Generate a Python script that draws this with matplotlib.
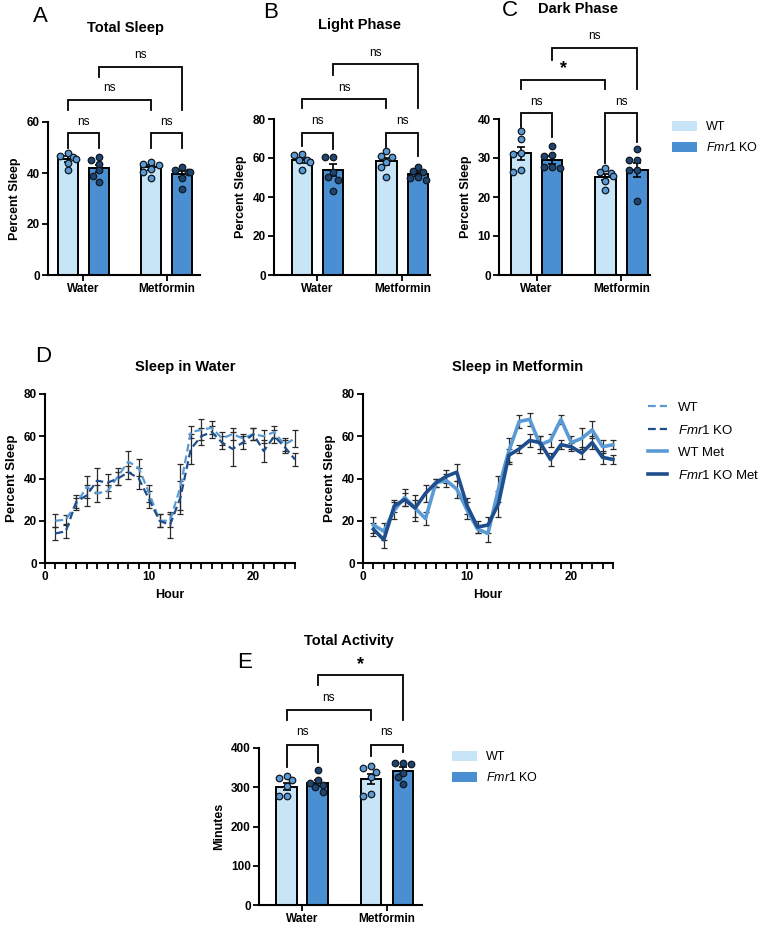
import matplotlib
matplotlib.use('Agg')
import matplotlib.pyplot as plt
import matplotlib.transforms as mtransforms
from matplotlib.patches import Patch
from matplotlib.lines import Line2D

plt.rcParams['font.family'] = ['Liberation Sans', 'DejaVu Sans']
plt.rcParams['mathtext.fontset'] = 'custom'
plt.rcParams['mathtext.it'] = 'Liberation Sans:italic'
plt.rcParams['mathtext.rm'] = 'Liberation Sans'

W, H = 760, 927

# ---- data ----
groups = ['Water', 'Metformin']
ko_label = r'$\mathit{Fmr1}$ KO'

# order: WT water, KO water, WT metformin, KO metformin
total_sleep_pts = [[47.8, 46.5, 46.3, 45.5, 43.8, 41.3],
                   [46.4, 45.0, 43.7, 41.0, 39.0, 36.4],
                   [44.4, 43.7, 43.0, 41.7, 40.4, 38.0],
                   [42.4, 41.0, 40.4, 40.4, 38.1, 33.8]]
total_sleep_mean = [45.5, 41.8, 42.2, 39.5]
total_sleep_sem = [1.0, 1.4, 1.0, 1.2]

light_pts = [[62.0, 61.4, 59.2, 58.8, 57.9, 53.7],
             [60.7, 60.7, 53.0, 50.5, 48.8, 43.3],
             [63.8, 61.0, 60.7, 58.0, 55.6, 50.5],
             [55.6, 53.5, 53.0, 50.5, 49.5, 48.8]]
light_mean = [58.8, 53.8, 58.3, 51.8]
light_sem = [1.2, 2.9, 1.9, 1.1]

dark_pts = [[36.8, 35.0, 31.3, 30.9, 27.0, 26.5],
            [33.2, 30.7, 30.4, 27.8, 27.8, 27.4],
            [27.4, 26.5, 26.2, 25.5, 24.0, 21.9],
            [32.2, 29.6, 29.4, 27.0, 27.0, 19.0]]
dark_mean = [31.2, 29.5, 25.2, 27.0]
dark_sem = [1.7, 1.0, 0.8, 1.8]

activity_pts = [[329, 323, 319, 302, 277, 277],
                [343, 319, 311, 306, 300, 287],
                [353, 349, 338, 326, 283, 277],
                [363, 362, 359, 336, 325, 309]]
activity_mean = [301, 311, 321, 342]
activity_sem = [9, 8, 13, 9]

hours = list(range(1, 25))
water_wt = [20, 20.5, 28, 36, 33, 34, 41, 48, 45, 33, 20, 20,
            36, 62, 63, 64, 59, 61, 59, 61, 60, 62, 56, 59]
water_wt_sem = [3, 2, 3, 5, 4, 3, 4, 5, 4, 4, 3, 3,
                11, 3, 5, 3, 3, 3, 2, 3, 3, 3, 3, 4]
water_ko = [14, 15, 29, 32, 39, 38, 40, 43, 40, 30, 20, 18,
            31, 54, 60, 62, 57, 54, 57, 61, 53, 60, 55, 49]
water_ko_sem = [3, 3, 3, 5, 6, 4, 3, 3, 5, 4, 3, 6,
                8, 7, 4, 3, 3, 8, 3, 3, 5, 3, 3, 3]
met_wt = [18, 15, 25, 31, 26, 21, 38, 39, 35, 25, 16, 14,
          35, 53, 67, 68, 56, 58, 68, 57, 59, 63, 55, 56]
met_wt_sem = [4, 4, 4, 4, 4, 3, 2, 3, 4, 4, 2, 4,
              6, 6, 3, 3, 4, 3, 2, 3, 5, 4, 3, 2]
met_ko = [16, 11, 27, 30, 26, 33, 38, 41, 43, 27, 17, 18,
          28, 51, 54, 58, 57, 49, 56, 55, 52, 57, 50, 49]
met_ko_sem = [3, 4, 3, 3, 6, 4, 2, 3, 4, 4, 3, 4,
              6, 3, 2, 3, 3, 3, 2, 2, 3, 3, 3, 2]

# ---- styling ----
wt_bar = '#c8e4f7'
ko_bar = '#4a8fd1'
wt_dot = '#5a9bd5'
ko_dot = '#1f4470'
wt_line = '#5b9bd5'
ko_line = '#1f4e8c'

bar_x = [0, 1, 2.72, 3.75]
group_ticks = [0.5, 3.235]

fig = plt.figure(figsize=(W / 100, H / 100), dpi=100)


def px_axes(left, top, right, bottom):
    return fig.add_axes([left / W, 1 - bottom / H, (right - left) / W, (bottom - top) / H])


def style_axes(ax):
    for s in ['top', 'right']:
        ax.spines[s].set_visible(False)
    for s in ['left', 'bottom']:
        ax.spines[s].set_linewidth(1.5)
    ax.tick_params(direction='out', length=4, width=1.3, labelsize=8.5, pad=2)
    for lab in ax.get_xticklabels() + ax.get_yticklabels():
        lab.set_fontweight('bold')


def swarm(ax, x0, vals, diam=6.3, step=0.17):
    # simple beeswarm in pixel space so dots do not overlap
    placed = []
    xs = []
    for v in vals:
        for k in [0, -1, 1, -0.5, 0.5, -1.5, 1.5]:
            xp, yp = ax.transData.transform((x0 + k * step, v))
            if all((xp - a) ** 2 + (yp - b) ** 2 >= diam ** 2 for a, b in placed):
                break
        placed.append((xp, yp))
        xs.append(x0 + k * step)
    return xs


def bracket(ax, x1, x2, yh, yl1, yl2, text, ty):
    tr = mtransforms.blended_transform_factory(ax.transData, ax.transAxes)
    ax.plot([x1, x1, x2, x2], [yl1, yh, yh, yl2], color='black', lw=1.3,
            transform=tr, clip_on=False, solid_joinstyle='miter')
    if text == '*':
        ax.text((x1 + x2) / 2, ty, text, transform=tr, ha='center', va='center',
                fontsize=13, fontweight='bold')
    else:
        ax.text((x1 + x2) / 2, ty, text, transform=tr, ha='center', va='center',
                fontsize=8.5)


def bar_panel(ax, pts, means, sems, ytop, ystep, ylabel, xlim, brackets):
    ax.set_xlim(*xlim)
    ax.set_ylim(0, ytop)
    ax.bar(bar_x, means, width=0.66, color=[wt_bar, ko_bar, wt_bar, ko_bar],
           edgecolor='black', linewidth=1.4, zorder=1)
    ax.errorbar(bar_x, means, yerr=sems, fmt='none', ecolor='black',
                elinewidth=1.2, capsize=3, capthick=1.2, zorder=2)
    for i, vals in enumerate(pts):
        xs = swarm(ax, bar_x[i], vals)
        ax.scatter(xs, vals, s=22, color=wt_dot if i % 2 == 0 else ko_dot,
                   edgecolor='#101820', linewidth=0.9, zorder=3, clip_on=False)
    ax.set_xticks(group_ticks)
    ax.set_xticklabels(groups)
    ax.set_yticks(range(0, ytop + 1, ystep))
    ax.set_ylabel(ylabel, fontsize=9, fontweight='bold', labelpad=4)
    style_axes(ax)
    for b in brackets:
        bracket(ax, *b)


# Panel A
axA = px_axes(48, 122, 200, 275)
bar_panel(axA, total_sleep_pts, total_sleep_mean, total_sleep_sem, 60, 20,
          'Percent Sleep', (-0.66, 4.33),
          [(bar_x[0], bar_x[1], 0.928, 0.83, 0.83, 'ns', 1.0),
           (bar_x[2], bar_x[3], 0.928, 0.83, 0.83, 'ns', 1.0),
           (bar_x[0], bar_x[2], 1.144, 1.078, 1.078, 'ns', 1.22),
           (bar_x[1], bar_x[3], 1.36, 1.294, 1.078, 'ns', 1.44)])

# Panel B
axB = px_axes(274, 119, 430, 275)
bar_panel(axB, light_pts, light_mean, light_sem, 80, 20,
          'Percent Sleep', (-0.9, 4.13),
          [(bar_x[0], bar_x[1], 0.91, 0.83, 0.81, 'ns', 0.99),
           (bar_x[2], bar_x[3], 0.91, 0.82, 0.76, 'ns', 0.99),
           (bar_x[0], bar_x[2], 1.13, 1.07, 1.07, 'ns', 1.2),
           (bar_x[1], bar_x[3], 1.35, 1.28, 1.07, 'ns', 1.42)])

# Panel C
axC = px_axes(499, 119, 650, 275)
bar_panel(axC, dark_pts, dark_mean, dark_sem, 40, 10,
          'Percent Sleep', (-0.71, 4.16),
          [(bar_x[0], bar_x[1], 1.04, 0.95, 0.885, 'ns', 1.11),
           (bar_x[2], bar_x[3], 1.04, 0.72, 0.85, 'ns', 1.11),
           (bar_x[0], bar_x[2], 1.25, 1.19, 1.19, '*', 1.325),
           (bar_x[1], bar_x[3], 1.455, 1.38, 1.19, 'ns', 1.53)])

# Panel E
axE = px_axes(259, 748, 422, 905)
bar_panel(axE, activity_pts, activity_mean, activity_sem, 400, 100,
          'Minutes', (-0.89, 4.37),
          [(bar_x[0], bar_x[1], 1.02, 0.88, 0.91, 'ns', 1.10),
           (bar_x[2], bar_x[3], 1.02, 0.95, 0.975, 'ns', 1.10),
           (bar_x[0], bar_x[2], 1.24, 1.18, 1.18, 'ns', 1.32),
           (bar_x[1], bar_x[3], 1.465, 1.40, 1.18, '*', 1.53)])


# Panel D
def time_panel(ax, wt, wt_sem, ko, ko_sem, ls, lw):
    for vals, sem, col in [(wt, wt_sem, wt_line), (ko, ko_sem, ko_line)]:
        ax.errorbar(hours, vals, yerr=sem, color=col, ls=ls, lw=lw,
                    ecolor='#2b2b2b', elinewidth=0.9, capsize=2.5, capthick=0.9,
                    clip_on=False, zorder=2)
    ax.set_xlim(0, 24)
    ax.set_ylim(0, 80)
    ax.set_xticks(range(0, 25))
    ax.set_xticklabels([str(h) if h in (0, 10, 20) else '' for h in range(0, 25)])
    ax.set_yticks(range(0, 81, 20))
    ax.set_xlabel('Hour', fontsize=9, fontweight='bold', labelpad=4)
    ax.set_ylabel('Percent Sleep', fontsize=9.5, fontweight='bold', labelpad=4)
    style_axes(ax)


axD1 = px_axes(45, 394, 295, 563)
time_panel(axD1, water_wt, water_wt_sem, water_ko, water_ko_sem, (0, (3.5, 1.8)), 1.6)
axD2 = px_axes(363, 394, 613, 563)
time_panel(axD2, met_wt, met_wt_sem, met_ko, met_ko_sem, '-', 2.6)

# titles and panel letters
titles = [('Total Sleep', 125, 28), ('Light Phase', 360, 25), ('Dark Phase', 578, 9),
          ('Sleep in Water', 185, 367), ('Sleep in Metformin', 518, 367),
          ('Total Activity', 349, 641)]
for t, x, y in titles:
    fig.text(x / W, 1 - y / H, t, ha='center', va='center', fontsize=10.5, fontweight='bold')

letters = [('A', 33, 17), ('B', 263, 13), ('C', 502, 10), ('D', 35, 357), ('E', 237, 662)]
for t, x, y in letters:
    fig.text(x / W, 1 - y / H, t, ha='left', va='center', fontsize=16)

# legends
bar_handles = [Patch(facecolor=wt_bar, edgecolor='none'), Patch(facecolor=ko_bar, edgecolor='none')]
for cy, tx in [(137.5, 672), (767.5, 452)]:
    fig.legend(bar_handles, ['WT', ko_label], loc='center left',
               bbox_to_anchor=(tx / W, 1 - cy / H), frameon=False, fontsize=9,
               handlelength=2.0, handleheight=0.9, handletextpad=0.7,
               labelspacing=0.65, borderpad=0, borderaxespad=0)

line_handles = [Line2D([], [], color=wt_line, ls=(0, (3.5, 1.8)), lw=1.6),
                Line2D([], [], color=ko_line, ls=(0, (3.5, 1.8)), lw=1.6),
                Line2D([], [], color=wt_line, lw=2.6),
                Line2D([], [], color=ko_line, lw=2.6)]
fig.legend(line_handles, ['WT', ko_label, 'WT Met', ko_label + ' Met'], loc='center left',
           bbox_to_anchor=(648 / W, 1 - 441.5 / H), frameon=False, fontsize=9.5,
           handlelength=1.45, handletextpad=0.8, labelspacing=0.75,
           borderpad=0, borderaxespad=0)

fig.savefig('out.png', dpi=100)
